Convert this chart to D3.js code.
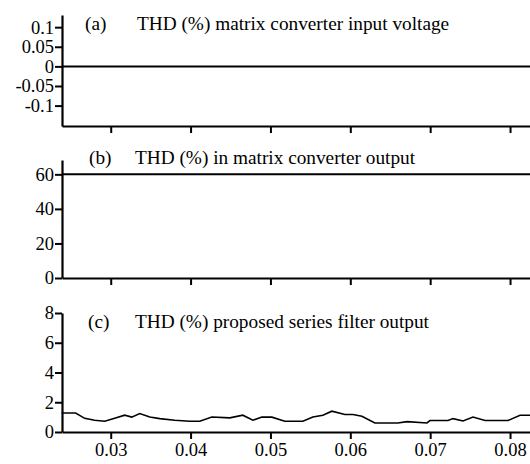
<!DOCTYPE html>
<html><head><meta charset="utf-8">
<script src="https://cdn.jsdelivr.net/npm/d3@7"></script>
<style>
html,body{margin:0;padding:0;background:#fff;}
svg text{font-family:"Liberation Serif","Times New Roman",serif;fill:#000;}
</style></head>
<body>
<script>
// Shared x (time, s)
const xTicks = [0.03, 0.04, 0.05, 0.06, 0.07, 0.08];
const xDomain = [0.0239, 0.0825];

// Panel (a): THD (%) matrix converter input voltage
const titleA = "THD (%) matrix converter input voltage";
const yTicksA = [0.1, 0.05, 0, -0.05, -0.1];
const yTickLabelsA = ["0.1", "0.05", "0", "-0.05", "-0.1"];
const timeA = [0.0239, 0.0825];
const thdA = [0, 0];

// Panel (b): THD (%) in matrix converter output
const titleB = "THD (%) in matrix converter output";
const yTicksB = [0, 20, 40, 60];
const timeB = [0.0239, 0.0825];
const thdB = [60, 60];

// Panel (c): THD (%) proposed series filter output
const titleC = "THD (%) proposed series filter output";
const yTicksC = [0, 2, 4, 6, 8];
const timeC = [0.02386,0.02561,0.02674,0.02799,0.02925,0.0305,0.03175,0.03263,0.03363,0.03489,0.03614,0.03802,0.0399,0.04115,0.04266,0.04491,0.04654,0.0478,0.04892,0.05018,0.0518,0.05406,0.05531,0.05657,0.05769,0.05932,0.06033,0.06145,0.06308,0.06596,0.06709,0.0696,0.06997,0.07223,0.07286,0.07411,0.07536,0.07687,0.07975,0.08125,0.0825];
const thdC = [1.28,1.28,0.92,0.79,0.72,0.92,1.13,1.0,1.24,1.01,0.9,0.79,0.72,0.72,1.01,0.95,1.13,0.79,1.01,1.0,0.72,0.72,1.01,1.13,1.4,1.18,1.18,1.06,0.61,0.61,0.7,0.61,0.77,0.77,0.9,0.74,1.01,0.77,0.77,1.13,1.13];

const W = 530, H = 464;
const FS_TICK = 18.5, FS_TITLE = 19.3;
const svg = d3.select("body").append("svg").attr("width", W).attr("height", H);

const x = d3.scaleLinear().domain(xDomain).range([62, 530]);

const panels = [
  {label:"(a)", title:titleA, top:15, bottom:126, domain:[-0.152, 0.131], ticks:yTicksA, fmt:(d,i)=>yTickLabelsA[i], t:timeA, v:thdA, lw:2, labelX:85, titleX:137, base:30},
  {label:"(b)", title:titleB, top:160, bottom:278, domain:[0, 68.3], ticks:yTicksB, fmt:d=>d, t:timeB, v:thdB, lw:2, labelX:89, titleX:135, base:164},
  {label:"(c)", title:titleC, top:313, bottom:432, domain:[0, 8], ticks:yTicksC, fmt:d=>d, t:timeC, v:thdC, lw:1.6, labelX:88, titleX:135, base:328, xlabels:true}
];

panels.forEach(p => {
  const y = d3.scaleLinear().domain(p.domain).range([p.bottom, p.top]);
  const g = svg.append("g");
  const data = p.t.map((t,i)=>[t, p.v[i]]);
  g.append("path").datum(data)
    .attr("fill","none").attr("stroke","#000").attr("stroke-width",p.lw)
    .attr("d", d3.line().x(d=>x(d[0])).y(d=>y(d[1])));
  const ya = g.append("g").attr("transform","translate(62,0)")
    .call(d3.axisLeft(y).tickValues(p.ticks).tickFormat(p.fmt).tickSize(7).tickPadding(1).tickSizeOuter(0));
  ya.select(".domain").attr("stroke-width",2.2);
  ya.selectAll(".tick line").attr("stroke-width",2);
  ya.selectAll(".tick text").attr("font-size",FS_TICK);
  const xa = g.append("g").attr("transform",`translate(0,${p.bottom})`)
    .call(d3.axisBottom(x).tickValues(xTicks).tickFormat(p.xlabels ? d3.format(".2f") : "").tickSize(7).tickPadding(4).tickSizeOuter(0));
  xa.select(".domain").attr("stroke-width",2.2);
  xa.selectAll(".tick line").attr("stroke-width",2);
  xa.selectAll(".tick text").attr("font-size",FS_TICK);
  g.append("text").attr("x",p.labelX).attr("y",p.base).attr("font-size",FS_TITLE).text(p.label);
  g.append("text").attr("x",p.titleX).attr("y",p.base).attr("font-size",FS_TITLE).text(p.title);
});
</script>
</body></html>
